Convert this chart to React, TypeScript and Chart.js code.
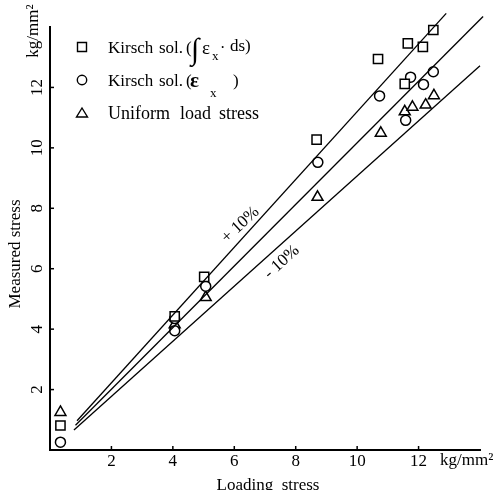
import React, { useEffect, useRef } from 'react';
import { Chart, registerables } from 'chart.js';

Chart.register(...registerables);

const FONT = '"Liberation Serif", "Times New Roman", serif';

// ---- data ----
const xTickValues = [2, 4, 6, 8, 10, 12];
const yTickValues = [2, 4, 6, 8, 10, 12];

const squareX = [0.34, 4.06, 5.02, 8.68, 10.68, 11.55, 11.65, 12.14, 12.48];
const squareY = [0.81, 4.42, 5.73, 10.27, 12.94, 12.12, 13.46, 13.34, 13.9];

const circleX = [0.34, 4.06, 4.06, 5.07, 8.72, 10.73, 11.58, 11.74, 12.16, 12.48];
const circleY = [0.26, 4.35, 3.95, 5.42, 9.52, 11.72, 10.91, 12.34, 12.1, 12.52];

const triangleX = [0.34, 4.06, 5.07, 8.71, 10.77, 11.55, 11.8, 12.23, 12.5];
const triangleY = [1.25, 4.15, 5.05, 8.37, 10.49, 11.2, 11.35, 11.42, 11.73];

const upperLineX = [0.88, 12.9];
const upperLineY = [0.97, 14.45];
const centerLineX = [0.83, 14.1];
const centerLineY = [0.82, 14.35];
const lowerLineX = [0.78, 14.0];
const lowerLineY = [0.66, 12.72];

const plusLabel = '+ 10%';
const plusLabelPos = [6.2, 7.45];
const minusLabel = '- 10%';
const minusLabelPos = [7.55, 6.22];

const zip = (xs: number[], ys: number[]) => xs.map((x, i) => ({ x, y: ys[i] }));

export default function App() {
  const ref = useRef<HTMLCanvasElement>(null);

  useEffect(() => {
    const canvas = ref.current;
    if (!canvas) return;

    const overlay = {
      id: 'overlay',
      afterDraw(chart: any) {
        const ctx: CanvasRenderingContext2D = chart.ctx;
        const xs = chart.scales.x;
        const ys = chart.scales.y;
        ctx.save();
        ctx.strokeStyle = '#000';
        ctx.fillStyle = '#000';
        ctx.lineWidth = 1.5;

        // inward tick marks
        xTickValues.forEach((v) => {
          const px = xs.getPixelForValue(v);
          ctx.beginPath();
          ctx.moveTo(px, xs.top);
          ctx.lineTo(px, xs.top - 4);
          ctx.stroke();
        });
        yTickValues.forEach((v) => {
          const py = ys.getPixelForValue(v);
          ctx.beginPath();
          ctx.moveTo(ys.right, py);
          ctx.lineTo(ys.right + 4, py);
          ctx.stroke();
        });

        // legend markers
        ctx.lineWidth = 1.4;
        ctx.fillStyle = '#fff';
        ctx.beginPath();
        ctx.rect(77.5, 42.5, 9, 9);
        ctx.fill();
        ctx.stroke();
        ctx.beginPath();
        ctx.arc(82, 80, 4.7, 0, Math.PI * 2);
        ctx.fill();
        ctx.stroke();
        ctx.beginPath();
        ctx.moveTo(82, 108);
        ctx.lineTo(87.5, 117);
        ctx.lineTo(76.5, 117);
        ctx.closePath();
        ctx.fill();
        ctx.stroke();

        ctx.fillStyle = '#000';
        ctx.textBaseline = 'alphabetic';
        ctx.textAlign = 'left';
        const f = (s: number, extra = '') => `${extra}${s}px ${FONT}`;
        const t = (s: string, x: number, y: number, size: number, extra = '') => {
          ctx.font = f(size, extra);
          ctx.fillText(s, x, y);
        };

        // legend line 1
        t('Kirsch', 108, 53, 17);
        t('sol.', 159, 53, 17);
        t('(', 186, 53, 17);
        t('\u222B', 191, 59, 30);
        t('\u03B5', 202, 54, 19);
        t('x', 212, 60, 13);
        t('\u00B7', 220, 53, 16);
        t('ds)', 230, 51, 17);

        // legend line 2
        t('Kirsch', 108, 86, 17);
        t('sol.', 159, 86, 17);
        t('(', 186, 86, 17);
        t('\u03B5', 190, 87, 21, 'bold ');
        t('x', 210, 97, 13);
        t(')', 233, 86, 17);

        // legend line 3
        t('Uniform', 108, 118.5, 18);
        t('load', 180, 118.5, 18);
        t('stress', 219, 118.5, 18);

        // +/-10% annotations
        const drawRot = (text: string, pos: number[], ang: number) => {
          ctx.save();
          ctx.translate(xs.getPixelForValue(pos[0]), ys.getPixelForValue(pos[1]));
          ctx.rotate(ang);
          ctx.textAlign = 'center';
          ctx.textBaseline = 'middle';
          ctx.font = f(17);
          ctx.fillText(text, 0, 0);
          ctx.restore();
        };
        drawRot(plusLabel, plusLabelPos, -(43 * Math.PI) / 180);
        drawRot(minusLabel, minusLabelPos, -(42 * Math.PI) / 180);

        // axis titles & units
        ctx.font = f(17);
        ctx.save();
        ctx.translate(16, 254);
        ctx.rotate(-Math.PI / 2);
        ctx.textAlign = 'center';
        ctx.textBaseline = 'middle';
        ctx.fillText('Measured stress', 0, 0);
        ctx.restore();

        ctx.save();
        ctx.translate(34, 31);
        ctx.rotate(-Math.PI / 2);
        ctx.textAlign = 'center';
        ctx.textBaseline = 'middle';
        ctx.fillText('kg/mm\u00B2', 0, 0);
        ctx.restore();

        ctx.textAlign = 'left';
        ctx.textBaseline = 'alphabetic';
        ctx.fillText('kg/mm\u00B2', 440, 465);

        ctx.textAlign = 'center';
        ctx.fillText('Loading  stress', 268, 490);

        ctx.restore();
      },
    };

    const markerCommon = {
      borderColor: '#000',
      backgroundColor: '#fff',
      borderWidth: 1.5,
      clip: false as const,
    };
    const lineCommon = {
      type: 'line' as const,
      showLine: true,
      borderColor: '#000',
      borderWidth: 1.3,
      pointRadius: 0,
      fill: false,
      clip: false as const,
    };

    const chart = new Chart(canvas, {
      type: 'scatter',
      data: {
        datasets: [
          { ...lineCommon, label: '+10%', data: zip(upperLineX, upperLineY) },
          { ...lineCommon, label: '0%', data: zip(centerLineX, centerLineY) },
          { ...lineCommon, label: '-10%', data: zip(lowerLineX, lowerLineY) },
          {
            ...markerCommon,
            label: 'Kirsch sol. (∫εx· ds)',
            data: zip(squareX, squareY),
            pointStyle: 'rect',
            pointRadius: 6.5,
          },
          {
            ...markerCommon,
            label: 'Kirsch sol. (εx)',
            data: zip(circleX, circleY),
            pointStyle: 'circle',
            pointRadius: 5,
          },
          {
            ...markerCommon,
            label: 'Uniform load stress',
            data: zip(triangleX, triangleY),
            pointStyle: 'triangle',
            pointRadius: 6.3,
          },
        ],
      },
      options: {
        animation: false,
        responsive: false,
        maintainAspectRatio: false,
        devicePixelRatio: 1,
        layout: { padding: { top: 27, right: 22, left: 0, bottom: 0 } },
        plugins: {
          legend: { display: false },
          tooltip: { enabled: false },
        },
        scales: {
          x: {
            type: 'linear',
            min: 0,
            max: 14,
            afterBuildTicks: (s: any) => {
              s.ticks = xTickValues.map((v) => ({ value: v }));
            },
            afterFit: (s: any) => {
              s.height = 40;
            },
            ticks: {
              color: '#000',
              font: { family: FONT, size: 17 },
              padding: 1,
              minRotation: 0,
              maxRotation: 0,
            },
            grid: { drawOnChartArea: false, drawTicks: false },
            border: { color: '#000', width: 2 },
          },
          y: {
            type: 'linear',
            min: 0,
            max: 14,
            afterBuildTicks: (s: any) => {
              s.ticks = yTickValues.map((v) => ({ value: v }));
            },
            afterFit: (s: any) => {
              s.width = 50;
            },
            ticks: {
              color: '#000',
              font: { family: FONT, size: 17 },
              padding: 4,
              minRotation: 90,
              maxRotation: 90,
              crossAlign: 'center',
            },
            grid: { drawOnChartArea: false, drawTicks: false },
            border: { color: '#000', width: 2 },
          },
        },
      },
      plugins: [overlay],
    });

    return () => chart.destroy();
  }, []);

  return (
    <div style={{ position: 'absolute', left: 0, top: 0, width: 502, height: 490, background: '#fff' }}>
      <canvas ref={ref} width={502} height={490} style={{ width: 502, height: 490 }} />
    </div>
  );
}
